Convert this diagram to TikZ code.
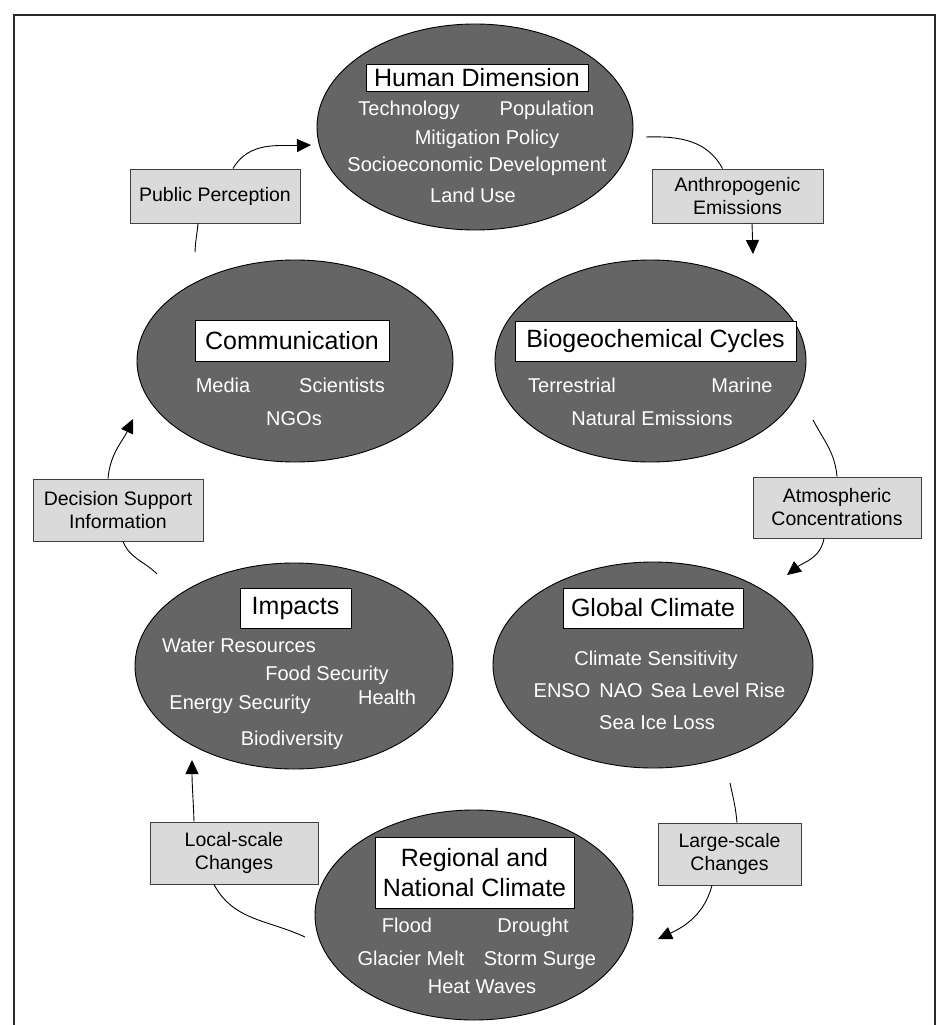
\documentclass[tikz,border=0pt]{standalone}
\usepackage{fontspec}
\setmainfont{Liberation Sans}
\usetikzlibrary{shapes.geometric,arrows.meta}
\definecolor{bubblegray}{HTML}{656565}
\definecolor{boxgray}{HTML}{DADADA}
\definecolor{boxedge}{HTML}{404040}
\definecolor{framecol}{HTML}{2A2A2A}
\begin{document}
\begin{tikzpicture}[x=1pt,y=-1pt,
  bubble/.style={ellipse,draw=black,line width=0.9pt,fill=bubblegray,inner sep=0pt},
  headbox/.style={draw=black,fill=white,line width=0.8pt,font=\fontsize{25}{30}\selectfont,inner sep=0pt,align=center},
  entry/.style={text=white,font=\fontsize{20}{24}\selectfont,inner sep=0pt,text height=14pt,text depth=0pt},
  linkbox/.style={draw=boxedge,fill=boxgray,line width=0.9pt,font=\fontsize{19.5}{23}\selectfont,align=center,inner sep=0pt},
  conn/.style={line width=0.9pt},
  arr/.style={conn,-{Triangle[length=14pt,width=13pt]}}
]
\useasboundingbox (0,0) rectangle (943,1025);
% frame
\draw[framecol,line width=1.4pt] (14,1025) -- (14,15) -- (935,15) -- (935,1025);

% ellipses
\node[bubble,minimum width=316pt,minimum height=206pt] (hd) at (475,127) {};
\node[bubble,minimum width=316pt,minimum height=202pt] (cm) at (295,361) {};
\node[bubble,minimum width=311pt,minimum height=202pt] (bg) at (650.5,361) {};
\node[bubble,minimum width=318pt,minimum height=206pt] (im) at (294,666) {};
\node[bubble,minimum width=320pt,minimum height=206pt] (gc) at (653,665) {};
\node[bubble,minimum width=318pt,minimum height=210pt] (rc) at (474,915) {};

% title boxes
\node[headbox,minimum width=222pt,minimum height=27pt] (hdt) at (477,77.5) {Human Dimension};
\node[headbox,minimum width=194pt,minimum height=41pt] (cmt) at (292,340.5) {Communication};
\node[headbox,minimum width=281pt,minimum height=40pt] (bgt) at (655.5,341) {Biogeochemical Cycles};
\node[headbox,minimum width=111pt,minimum height=40pt] (imt) at (295.5,608) {Impacts};
\node[headbox,minimum width=180pt,minimum height=40pt] (gct) at (653,608) {Global Climate};
\node[headbox,minimum width=199pt,minimum height=71pt] (rct) at (474.5,872.5) {Regional and\\National Climate};

% entries: Human Dimension
\node[entry] (hd1) at (409,108) {Technology};
\node[entry] (hd2) at (547,108) {Population};
\node[entry] (hd3) at (487,137) {Mitigation Policy};
\node[entry] (hd4) at (477,164) {Socioeconomic Development};
\node[entry] (hd5) at (473,195) {Land Use};
% Communication
\node[entry] (cm1) at (223,385) {Media};
\node[entry] (cm2) at (342,385) {Scientists};
\node[entry] (cm3) at (294,418) {NGOs};
% Biogeochemical
\node[entry] (bg1) at (572,385) {Terrestrial};
\node[entry] (bg2) at (742,385) {Marine};
\node[entry] (bg3) at (652,418) {Natural Emissions};
% Impacts
\node[entry] (im1) at (239,645) {Water Resources};
\node[entry] (im2) at (327,673) {Food Security};
\node[entry] (im3) at (240,702) {Energy Security};
\node[entry] (im4) at (387,697) {Health};
\node[entry] (im5) at (292,738) {Biodiversity};
% Global climate
\node[entry] (gc1) at (656,658) {Climate Sensitivity};
\node[entry] (gc2) at (562,690) {ENSO};
\node[entry] (gc3) at (621,690) {NAO};
\node[entry] (gc4) at (718,690) {Sea Level Rise};
\node[entry] (gc5) at (657,722) {Sea Ice Loss};
% Regional
\node[entry] (rc1) at (407,925) {Flood};
\node[entry] (rc2) at (533,925) {Drought};
\node[entry] (rc3) at (411,958) {Glacier Melt};
\node[entry] (rc4) at (540,958) {Storm Surge};
\node[entry] (rc5) at (482,986) {Heat Waves};

% link boxes
\node[linkbox,minimum width=170pt,minimum height=54pt] (pp) at (215,196) {Public Perception};
\node[linkbox,minimum width=171pt,minimum height=54pt] (ae) at (737.5,196) {Anthropogenic\\Emissions};
\node[linkbox,minimum width=168pt,minimum height=61pt] (ac) at (837,507.5) {Atmospheric\\Concentrations};
\node[linkbox,minimum width=143pt,minimum height=62pt] (ls) at (729.5,854) {Large-scale\\Changes};
\node[linkbox,minimum width=168pt,minimum height=62pt] (lc) at (234,853) {Local-scale\\Changes};
\node[linkbox,minimum width=170pt,minimum height=62pt] (ds) at (118,510) {Decision Support\\Information};

% free ends
\coordinate (ppS) at (195,252);
\coordinate (ppT) at (311,145);
\coordinate (aeS) at (646,137);
\coordinate (aeT) at (753,254);
\coordinate (acS) at (813,420);
\coordinate (acT) at (787,575);
\coordinate (lsS) at (730,783);
\coordinate (lsT) at (658,939);
\coordinate (lcS) at (305,937);
\coordinate (lcT) at (192,760);
\coordinate (dsS) at (157,574);
\coordinate (dsT) at (133,419);

% connectors
\draw[conn] (ppS) to[out=88,in=-95] ([xshift=-17pt]pp.south);
\draw[arr] ([xshift=18pt]pp.north) to[out=60,in=182] (ppT);
\draw[conn] (aeS) to[out=2,in=118] ([xshift=-15pt]ae.north);
\draw[arr] ([xshift=14.5pt]ae.south) to[out=-88,in=92] (aeT);
\draw[conn] (acS) to[out=-62,in=95] (ac.north);
\draw[arr] ([xshift=-13pt]ac.south) to[out=-100,in=38] (acT);
\draw[conn] (lsS) to[out=-78,in=95] ([xshift=7.5pt]ls.north);
\draw[arr] ([xshift=-17.5pt]ls.south) to[out=-105,in=25] (lsT);
\draw[conn] (lcS) to[out=155,in=-62] ([xshift=-20pt]lc.south);
\draw[arr] ([xshift=-40pt]lc.north) to[out=92,in=-90] (lcT);
\draw[conn] (dsS) to[out=135,in=-68] ([xshift=5pt]ds.south);
\draw[arr] ([xshift=-10pt]ds.north) to[out=85,in=-115] (dsT);
\end{tikzpicture}
\end{document}
